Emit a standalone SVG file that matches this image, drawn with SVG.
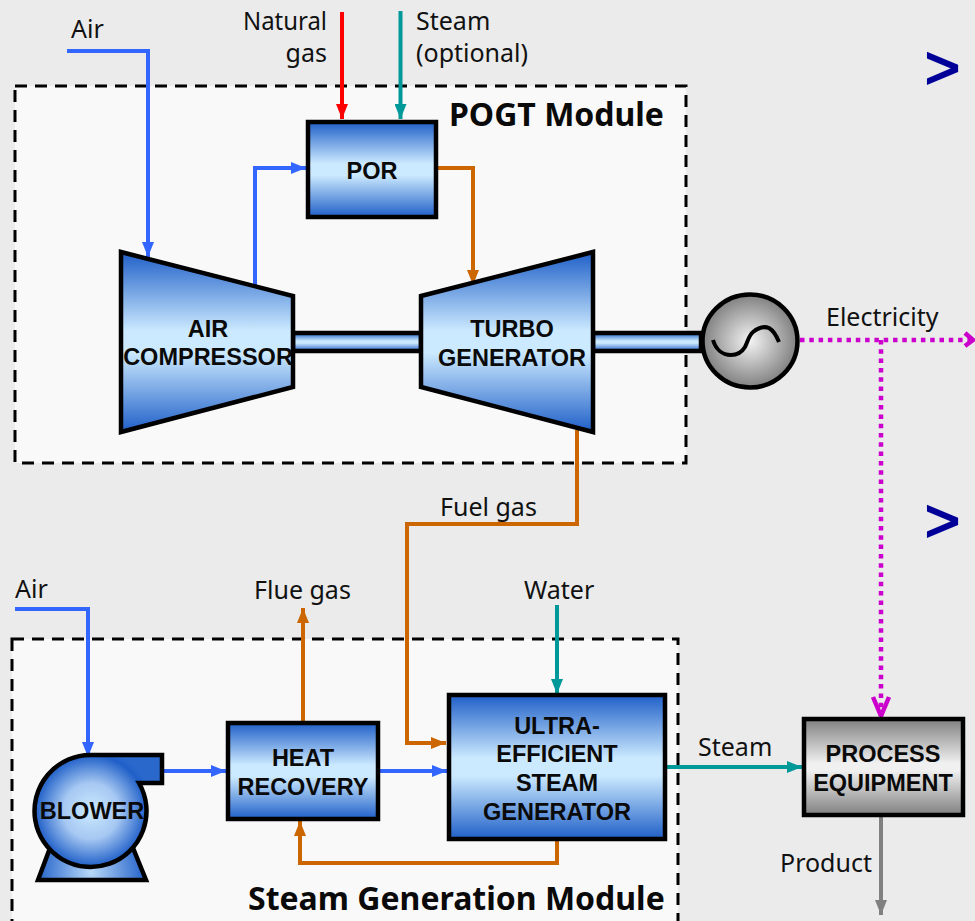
<svg xmlns="http://www.w3.org/2000/svg" width="975" height="921" viewBox="0 0 975 921">
<style>
text{font-family:"Noto Sans","DejaVu Sans",sans-serif;fill:#111}
.l{font-size:25px}
.b{font-family:"Liberation Sans",Arial,sans-serif;font-size:23.500px;font-weight:700;text-anchor:middle;fill:#0a0a0a}
.t{font-size:32px;font-weight:700;fill:#0a0a0a}
.m{fill:#f9f9f9;stroke:#000;stroke-width:3;stroke-dasharray:12 8}
.s{stroke:#000;stroke-width:4.500;stroke-linejoin:miter}
.c{fill:none;stroke-width:4;stroke-linejoin:miter}
.blue{stroke:#3366ff}.or{stroke:#cc6600}.teal{stroke:#009999}.red{stroke:#ff0000}.gr{stroke:#808080}
.mg{fill:none;stroke:#cc00cc;stroke-width:4.500;stroke-dasharray:4.500 4.800}
.ch{font-family:"Liberation Sans",Arial,sans-serif;font-size:60px;fill:#000099;stroke:#000099;stroke-width:2}
</style>
<defs>
<linearGradient id="bg" x1="0" y1="0" x2="0" y2="1"><stop offset="0" stop-color="#1f5fc8"/><stop offset=".44" stop-color="#cceaff"/><stop offset=".56" stop-color="#cceaff"/><stop offset="1" stop-color="#1f5fc8"/></linearGradient>
<linearGradient id="gy" x1="0" y1="0" x2="0" y2="1"><stop offset="0" stop-color="#808080"/><stop offset=".46" stop-color="#f0f0f0"/><stop offset=".54" stop-color="#f0f0f0"/><stop offset="1" stop-color="#808080"/></linearGradient>
<radialGradient id="rb" gradientUnits="userSpaceOnUse" cx="91" cy="811" r="62"><stop offset="0" stop-color="#cceaff"/><stop offset=".45" stop-color="#a6c8f2"/><stop offset=".9" stop-color="#1f5fc8"/><stop offset="1" stop-color="#2a68cc"/></radialGradient>
<radialGradient id="rp" gradientUnits="userSpaceOnUse" cx="91" cy="872" r="52"><stop offset="0" stop-color="#b8d8f8"/><stop offset="1" stop-color="#2a68cc"/></radialGradient>
<radialGradient id="rg" cx=".5" cy=".5" r=".5"><stop offset="0" stop-color="#f4f4f4"/><stop offset="1" stop-color="#808080"/></radialGradient>
<marker id="ab" markerUnits="userSpaceOnUse" markerWidth="15" markerHeight="12" refX="15" refY="6" orient="auto"><path d="M0 0L15 6L0 12z" fill="#3366ff"/></marker>
<marker id="ao" markerUnits="userSpaceOnUse" markerWidth="15" markerHeight="12" refX="15" refY="6" orient="auto"><path d="M0 0L15 6L0 12z" fill="#cc6600"/></marker>
<marker id="at" markerUnits="userSpaceOnUse" markerWidth="15" markerHeight="12" refX="15" refY="6" orient="auto"><path d="M0 0L15 6L0 12z" fill="#009999"/></marker>
<marker id="ar" markerUnits="userSpaceOnUse" markerWidth="15" markerHeight="12" refX="15" refY="6" orient="auto"><path d="M0 0L15 6L0 12z" fill="#ff0000"/></marker>
<marker id="ag" markerUnits="userSpaceOnUse" markerWidth="15" markerHeight="12" refX="15" refY="6" orient="auto"><path d="M0 0L15 6L0 12z" fill="#808080"/></marker>
</defs>
<rect width="975" height="921" fill="#ebebeb"/>
<g id="pogt-module"><rect class="m" x="15" y="86" width="671" height="377"/><text class="t" x="449" y="126">POGT Module</text></g>
<g id="steam-module"><rect class="m" x="12" y="639" width="666" height="300"/><text class="t" x="248" y="910">Steam Generation Module</text></g>
<g id="connectors">
<path class="c blue" d="M67 51H148V257" marker-end="url(#ab)"/>
<path class="c red" d="M342 12V119" marker-end="url(#ar)"/>
<path class="c teal" d="M400.500 11V119" marker-end="url(#at)"/>
<path class="c blue" d="M255 285V168H306" marker-end="url(#ab)"/>
<path class="c or" d="M437 168H473V285" marker-end="url(#ao)"/>
<path class="c or" d="M577 430V524H407V743H446" marker-end="url(#ao)"/>
<path class="c or" d="M303 722V608" marker-end="url(#ao)"/>
<path class="c blue" d="M15 609H88V757" marker-end="url(#ab)"/>
<path class="c blue" d="M163 771H226" marker-end="url(#ab)"/>
<path class="c blue" d="M380 771H447" marker-end="url(#ab)"/>
<path class="c or" d="M557 840V863H300V821" marker-end="url(#ao)"/>
<path class="c teal" d="M557 605V694" marker-end="url(#at)"/>
<path class="c teal" d="M667 767H802" marker-end="url(#at)"/>
<path class="c gr" d="M881 817V915" marker-end="url(#ag)"/>
<path class="mg" d="M800 340H975"/>
<path class="mg" d="M881 340V716"/>
<path d="M965 333L973 340L965 346M873 697L881 716L889 697" fill="none" stroke="#cc00cc" stroke-width="4.500"/>
</g>
<g id="shaft-1"><rect class="s" x="293" y="333" width="128" height="18" fill="url(#bg)"/></g>
<g id="shaft-2"><rect class="s" x="593" y="333" width="108" height="18" fill="url(#bg)"/></g>
<g id="por"><rect class="s" x="308" y="122" width="128" height="95" fill="url(#bg)"/><text class="b" x="372" y="179">POR</text></g>
<g id="air-compressor"><path class="s" d="M121 252L293 296V387L121 432z" fill="url(#bg)"/><text class="b" x="208" y="337">AIR</text><text class="b" x="208" y="365">COMPRESSOR</text></g>
<g id="turbo-generator"><path class="s" d="M421 296L593 252V432L421 387z" fill="url(#bg)"/><text class="b" x="512" y="337">TURBO</text><text class="b" x="512" y="366">GENERATOR</text></g>
<g id="generator"><ellipse class="s" cx="750" cy="341" rx="47.500" ry="46.500" fill="url(#rg)"/><path d="M713 340C716 350 723 355 731 355C737 355 742 352 745 347C748 341 749 335 753 332C758 328 764 326 769 328C774 331 777 337 779 342" fill="none" stroke="#000" stroke-width="4"/></g>
<g id="blower"><path class="s" d="M50 848L38 880H146L133 848z" fill="url(#rp)"/><path class="s" d="M91 755H162V783H139A56 56 0 1 1 91 755z" fill="url(#rb)"/><text class="b" x="92" y="819">BLOWER</text></g>
<g id="heat-recovery"><rect class="s" x="228" y="723" width="150" height="96" fill="url(#bg)"/><text class="b" x="303" y="766">HEAT</text><text class="b" x="303" y="795">RECOVERY</text></g>
<g id="steam-generator"><rect class="s" x="449" y="695" width="216" height="144" fill="url(#bg)"/><text class="b" x="557" y="734">ULTRA-</text><text class="b" x="557" y="762">EFFICIENT</text><text class="b" x="557" y="791">STEAM</text><text class="b" x="557" y="820">GENERATOR</text></g>
<g id="process-equipment"><rect class="s" x="804" y="719" width="159" height="96" fill="url(#gy)"/><text class="b" x="883" y="762">PROCESS</text><text class="b" x="883" y="791">EQUIPMENT</text></g>
<g id="labels">
<text class="l" x="71" y="38">Air</text>
<text class="l" x="327" y="30" text-anchor="end" textLength="84" lengthAdjust="spacingAndGlyphs">Natural</text>
<text class="l" x="327" y="62" text-anchor="end">gas</text>
<text class="l" x="416" y="30">Steam</text>
<text class="l" x="416" y="62">(optional)</text>
<text class="l" x="826" y="326">Electricity</text>
<text class="l" x="440" y="516">Fuel gas</text>
<text class="l" x="15" y="598">Air</text>
<text class="l" x="254" y="599">Flue gas</text>
<text class="l" x="524" y="599">Water</text>
<text class="l" x="698" y="756">Steam</text>
<text class="l" x="780" y="872">Product</text>
<text class="ch" x="925" y="88">&gt;</text>
<text class="ch" x="925" y="541">&gt;</text>
</g>
</svg>
